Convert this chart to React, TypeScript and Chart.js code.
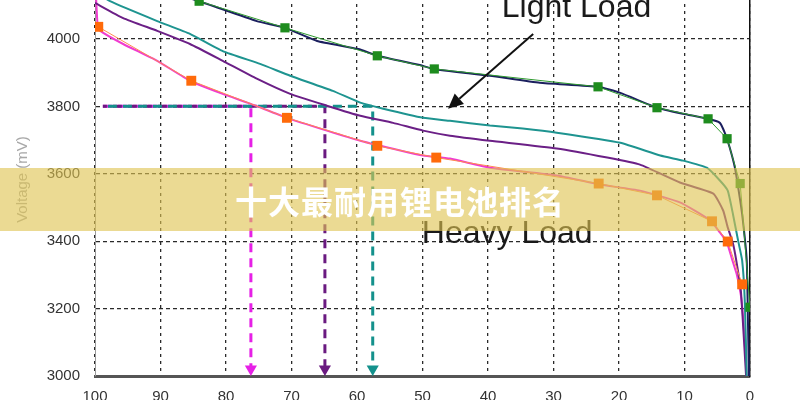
import React, { useEffect, useRef } from 'react';
import { Chart, registerables } from 'chart.js';
Chart.register(...registerables);

// ---------- data (x = remaining capacity %, y = voltage mV) ----------
const Y_MIN = 3000;
const Y_MAX = 4166;
const yTickValues = [3000, 3200, 3400, 3600, 3800, 4000];
const X_STEP = 10;

const lightPct = [100, 92, 84.1, 75.3, 71.0, 66.1, 59.8, 56.9, 49.9, 48.4, 39.7, 32.1, 23.2, 19.8, 14.2, 10.2, 6.4, 4.6, 3.8, 3.1, 2.3, 1.8, 1.2, 0.5, 0.3, 0.15];
const lightMv = [4200, 4160, 4112, 4053, 4033, 3994, 3970, 3950, 3920, 3911, 3891, 3870, 3858, 3840, 3796, 3778, 3763, 3751, 3719, 3678, 3618, 3559, 3480, 3343, 3150, 3000];

const tealPct = [100, 97.7, 90.5, 85.5, 80.5, 74.8, 70.2, 63.7, 59.5, 56.0, 49.9, 45.8, 39.7, 34.7, 29.5, 19.8, 13.7, 10.2, 6.6, 4.6, 3.4, 2.6, 1.8, 1.2, 0.8, 0.5];
const tealMv = [4140, 4112, 4053, 4015, 3964, 3926, 3891, 3846, 3811, 3793, 3766, 3757, 3743, 3734, 3722, 3692, 3654, 3639, 3618, 3580, 3550, 3480, 3400, 3343, 3225, 3000];

const purplePct = [100, 95.7, 90.5, 85.5, 80.5, 75.3, 70.2, 64.6, 59.5, 54.5, 49.9, 45.8, 39.7, 29.5, 21.8, 16.8, 10.7, 5.6, 4.1, 3.4, 2.6, 2.1, 1.4, 0.9, 0.6];
const purpleMv = [4107, 4062, 4024, 3985, 3935, 3882, 3837, 3802, 3772, 3751, 3728, 3713, 3698, 3675, 3648, 3627, 3574, 3541, 3491, 3441, 3393, 3343, 3254, 3100, 3000];

const heavyPct = [100, 99.6, 99.2, 95.7, 90.5, 85.5, 80.5, 76.3, 70.7, 64.6, 59.5, 53.4, 49.9, 45.8, 39.7, 29.5, 22.9, 16.8, 10.7, 6.1, 4.6, 3.6, 2.8, 2.0, 1.4, 1.0, 0.5];
const heavyMv = [4190, 4040, 4024, 3985, 3935, 3876, 3837, 3808, 3766, 3728, 3698, 3669, 3654, 3645, 3618, 3595, 3568, 3550, 3515, 3462, 3426, 3400, 3350, 3300, 3240, 3160, 3000];

const greenMarkPct = [84.1, 71.0, 56.9, 48.2, 23.2, 14.2, 6.4, 3.5, 1.5, 0];
const greenMarkMv = [4112, 4033, 3950, 3911, 3858, 3796, 3763, 3704, 3571, 3204];

const orangeMarkPct = [99.5, 85.3, 70.7, 56.9, 47.9, 23.1, 14.2, 5.8, 3.4, 1.2];
const orangeMarkMv = [4036, 3876, 3766, 3683, 3648, 3571, 3536, 3459, 3399, 3272];

// dashed guide lines at 3800 mV: start %, crossing %
const guideLevel = 3800;
const guideStart = 98.8;
const guideArrowMv = 3021;
const guideCross = { heavy: 76.2, purple: 64.9, teal: 57.6 };

// annotations
const lightLabel = { text: 'Light Load', x: 37.9, y: 4064 };
const heavyLabel = { text: 'Heavy Load', x: 50.1, y: 3396 };
const arrowFrom = { x: 33.1, y: 4015 };
const arrowTo = { x: 46.1, y: 3793 };

const bannerText = '十大最耐用锂电池排名';
const yTitle = 'Voltage (mV)';

const pts = (xs: number[], ys: number[]) => xs.map((x, i) => ({ x, y: ys[i] }));
const guide = (cross: number) => [
  { x: guideStart, y: guideLevel },
  { x: cross, y: guideLevel },
  { x: cross, y: guideArrowMv },
];

const annotPlugin = {
  id: 'annot',
  afterDatasetsDraw(chart: any) {
    const { ctx, scales } = chart;
    const xs = scales.x, ys = scales.y;
    ctx.save();
    ctx.fillStyle = '#1a1a1a';
    ctx.font = '32px "Liberation Sans", Arial, sans-serif';
    ctx.textAlign = 'left';
    ctx.textBaseline = 'alphabetic';
    [lightLabel, heavyLabel].forEach((l) => {
      ctx.fillText(l.text, xs.getPixelForValue(l.x), ys.getPixelForValue(l.y));
    });
    const x1 = xs.getPixelForValue(arrowFrom.x), y1 = ys.getPixelForValue(arrowFrom.y);
    const x2 = xs.getPixelForValue(arrowTo.x), y2 = ys.getPixelForValue(arrowTo.y);
    const ang = Math.atan2(y2 - y1, x2 - x1);
    const hl = 15, hw = 7;
    const bx = x2 - Math.cos(ang) * hl, by = y2 - Math.sin(ang) * hl;
    ctx.strokeStyle = '#111';
    ctx.lineWidth = 2;
    ctx.beginPath();
    ctx.moveTo(x1, y1);
    ctx.lineTo(bx, by);
    ctx.stroke();
    ctx.fillStyle = '#111';
    ctx.beginPath();
    ctx.moveTo(x2, y2);
    ctx.lineTo(bx + Math.sin(ang) * hw, by - Math.cos(ang) * hw);
    ctx.lineTo(bx - Math.sin(ang) * hw, by + Math.cos(ang) * hw);
    ctx.closePath();
    ctx.fill();
    ctx.restore();
  },
};

const zeroPad = (w?: number, h?: number) => (scale: any) => {
  if (w !== undefined) scale.width = w;
  if (h !== undefined) scale.height = h;
  scale.paddingTop = 0;
  scale.paddingBottom = 0;
  scale.paddingLeft = 0;
  scale.paddingRight = 0;
};

const tickFont = { family: '"Liberation Sans", Arial, sans-serif', size: 15 };

export default function App() {
  const ref = useRef<HTMLCanvasElement>(null);
  useEffect(() => {
    if (!ref.current) return;
    const NAVY = '#1b1f5e';
    const TEAL = '#1e9490';
    const PURPLE = '#6b1f86';
    const HEAVY = '#f03cd0';
    const DMAG = '#e620e6';
    const DPUR = '#6a1a80';
    const DTEAL = '#14918c';
    const curve = (data: any, color: string, order: number) => ({
      data, borderColor: color, borderWidth: 2, pointRadius: 0, tension: 0.15, order,
    });
    const dashed = (data: any, color: string, offset: number, order: number) => ({
      data,
      borderColor: color,
      backgroundColor: color,
      borderWidth: 3,
      borderDash: [9, 6],
      borderDashOffset: offset,
      tension: 0,
      pointRadius: [0, 0, 7],
      pointStyle: 'triangle',
      rotation: 180,
      pointBorderWidth: 0,
      pointBackgroundColor: color,
      order,
    });
    const chart = new Chart(ref.current, {
      type: 'line',
      data: {
        datasets: [
          curve(pts(lightPct, lightMv), NAVY, 3),
          curve(pts(tealPct, tealMv), TEAL, 4),
          curve(pts(purplePct, purpleMv), PURPLE, 5),
          curve(pts(heavyPct, heavyMv), HEAVY, 6),
          {
            data: pts(greenMarkPct, greenMarkMv), borderColor: '#2e9a2e', borderWidth: 1, tension: 0,
            pointStyle: 'rect', pointRadius: 6.5, pointBackgroundColor: '#1e8c1e', pointBorderWidth: 0, order: 1,
          },
          {
            data: pts(orangeMarkPct, orangeMarkMv), borderColor: '#ff8a50', borderWidth: 1, tension: 0,
            pointStyle: 'rect', pointRadius: 7, pointBackgroundColor: '#ff6a0a', pointBorderWidth: 0, order: 2,
          },
          dashed(guide(guideCross.heavy), DMAG, 0, 9),
          dashed(guide(guideCross.purple), DPUR, 5, 8),
          dashed(guide(guideCross.teal), DTEAL, 10, 7),
        ] as any,
      },
      options: {
        responsive: false,
        animation: false,
        events: [],
        layout: { padding: { top: 0, left: 0, right: 50, bottom: 0 } },
        plugins: { legend: { display: false }, tooltip: { enabled: false } },
        scales: {
          x: {
            type: 'linear',
            min: 0,
            max: 100,
            reverse: true,
            afterFit: zeroPad(undefined, 40),
            ticks: {
              stepSize: X_STEP,
              padding: 12,
              color: '#333',
              font: tickFont,
              callback: (v: any) => String(v),
            },
            grid: { color: '#2a2a2a', lineWidth: 1.3, drawTicks: false },
            border: { display: true, color: '#555', width: 3, dash: [3, 4] },
          },
          y: {
            type: 'linear',
            min: Y_MIN,
            max: Y_MAX,
            afterFit: zeroPad(95, undefined),
            afterBuildTicks: (scale: any) => {
              scale.ticks = yTickValues.map((v) => ({ value: v }));
            },
            ticks: {
              padding: 15,
              color: '#333',
              font: tickFont,
              callback: (v: any) => String(v),
            },
            grid: { color: '#2a2a2a', lineWidth: 1.3, drawTicks: false },
            border: { display: true, color: '#9a9a9a', width: 1, dash: [4, 3] },
            title: {
              display: true,
              text: yTitle,
              color: '#a8a8a8',
              padding: { top: 14, bottom: 0 },
              font: tickFont,
            },
          },
          y2: {
            type: 'linear',
            position: 'right',
            afterFit: zeroPad(0, undefined),
            ticks: { display: false },
            grid: { display: true, drawOnChartArea: false, drawTicks: false },
            border: { display: true, color: '#111', width: 1.5 },
          },
        },
      } as any,
      plugins: [annotPlugin],
    });
    return () => chart.destroy();
  }, []);

  return (
    <div style={{ position: 'fixed', left: 0, top: 0, width: 800, height: 400, overflow: 'hidden', background: '#fff' }}>
      <canvas ref={ref} width={800} height={440} style={{ position: 'absolute', left: 0, top: -24, width: 800, height: 440 }} />
      <div
        style={{
          position: 'absolute', left: 0, top: 168, width: 800, height: 63,
          background: 'rgba(222,196,80,0.62)',
          display: 'flex', alignItems: 'center', justifyContent: 'center',
          color: '#fff', fontFamily: '"Noto Sans CJK SC", sans-serif', fontWeight: 700, fontSize: 32,
          letterSpacing: 1,
        }}
      >
        {bannerText}
      </div>
    </div>
  );
}
